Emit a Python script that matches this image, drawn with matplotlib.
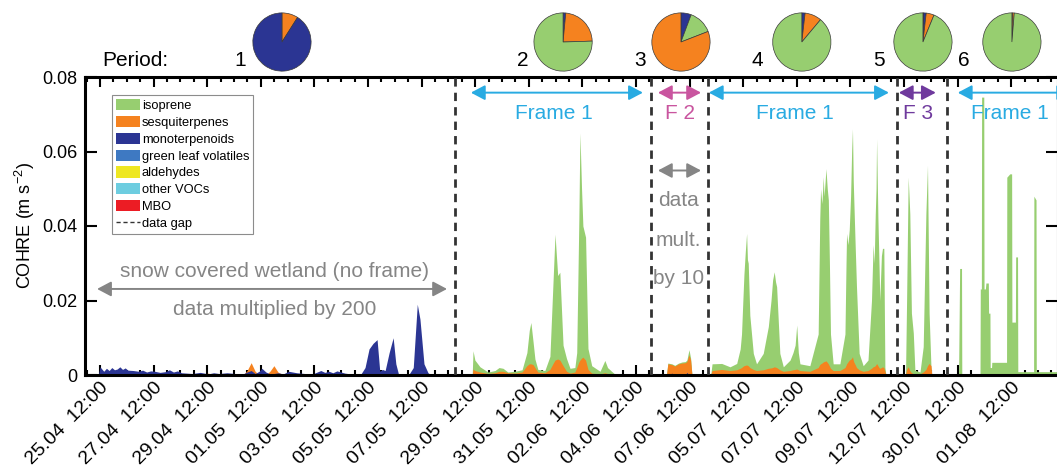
import matplotlib
matplotlib.use("Agg")
import matplotlib.pyplot as plt
import matplotlib.transforms as mtransforms
from matplotlib.patches import Patch
from matplotlib.lines import Line2D
import numpy as np

plt.rcParams["font.family"] = ["Liberation Sans", "DejaVu Sans"]
plt.rcParams["mathtext.fontset"] = "custom"
plt.rcParams["mathtext.rm"] = "Liberation Sans"
plt.rcParams["mathtext.it"] = "Liberation Sans:italic"

# x axis = days along the spliced time axis (the gaps between campaigns removed)
date_labels = ["25.04", "27.04", "29.04", "01.05", "03.05", "05.05", "07.05",
               "29.05", "31.05", "02.06", "04.06", "07.06", "05.07", "07.07",
               "09.07", "12.07", "30.07", "01.08"]
tick_days = 0.56 + 2 * np.arange(len(date_labels))
gap_days = [13.81, 21.12, 23.25, 30.30, 32.16]
x_max = 36.31

colors = {
    "isoprene": "#97ce70",
    "sesquiterpenes": "#f5821f",
    "monoterpenoids": "#2b3593",
    "green leaf volatiles": "#3e79c2",
    "aldehydes": "#eee722",
    "other VOCs": "#6dcde0",
    "MBO": "#ec1c24",
}

# period 1 - snow covered wetland (x200)
seg1_day = [0.50, 0.56, 0.70, 0.80, 0.90, 1.00, 1.10, 1.20, 1.30, 1.40, 1.50, 1.60, 1.80,
            2.00, 2.15, 2.30, 2.45, 2.60, 2.80, 3.00, 3.15, 3.30, 3.45, 3.60, 4.00, 4.30,
            4.60, 4.80, 5.00, 5.30, 5.60, 5.90, 6.05, 6.20, 6.35, 6.50, 6.60, 6.75, 6.90,
            7.05, 7.20, 7.40, 7.60, 7.90, 8.20, 8.50, 8.80, 8.95, 9.10, 9.25, 9.40, 9.70,
            10.00, 10.30, 10.45, 10.60, 10.75, 10.90, 11.00, 11.10, 11.20, 11.35, 11.50,
            11.60, 11.70, 11.90, 12.10, 12.25, 12.40, 12.50, 12.65, 12.80, 12.90, 13.80]
seg1_mono = [0, 0.0022, 0.0010, 0.0018, 0.0012, 0.0020, 0.0014, 0.0016, 0.0022, 0.0015,
             0.0019, 0.0013, 0.0012, 0.0010, 0.0013, 0.0008, 0.0011, 0.0010, 0.0007, 0.0009,
             0.0014, 0.0008, 0.0011, 0.0006, 0.0004, 0.0007, 0.0003, 0.0006, 0.0004, 0.0006,
             0.0004, 0.0003, 0.0008, 0.0012, 0.0004, 0.0010, 0.0018, 0.0008, 0.0003, 0.0004,
             0.0006, 0.0003, 0.0010, 0.0006, 0.0004, 0.0003, 0.0012, 0.0007, 0.0010, 0.0006,
             0.0011, 0.0005, 0.0002, 0.0003, 0.0020, 0.0070, 0.0085, 0.0095, 0.0010, 0.0015,
             0.0012, 0.0060, 0.0100, 0.0030, 0.0002, 0.0002, 0.0003, 0.0020, 0.0190, 0.0150,
             0.0030, 0.0006, 0.0001, 0]
seg1_sesq = [0] * 26 + [0.0005, 0, 0, 0, 0, 0, 0.0012, 0.0033, 0.0010, 0, 0, 0, 0.0010,
                        0.0025, 0.0008] + [0] * 33

# period 2 - frame 1
seg2_day = [14.45, 14.48, 14.55, 14.74, 15.04, 15.30, 15.45, 15.60, 15.78, 16.04,
            16.31, 16.49, 16.58, 16.64, 16.72, 16.79, 16.90, 17.16, 17.35, 17.46,
            17.54, 17.64, 17.72, 17.84, 17.97, 18.10, 18.28, 18.35, 18.43, 18.47,
            18.53, 18.58, 18.68, 18.77, 18.91, 19.22, 19.40, 19.50, 19.65, 19.78, 21.0]
seg2_iso = [0, 0.0065, 0.0040, 0.0022, 0.0008, 0.0012, 0.0020, 0.0018, 0.0008, 0.0010,
            0.0014, 0.0060, 0.0120, 0.0141, 0.0090, 0.0043, 0.0015, 0.0012, 0.0050, 0.0240,
            0.0378, 0.0267, 0.0276, 0.0080, 0.0044, 0.0018, 0.0020, 0.0060, 0.0420, 0.0650,
            0.0500, 0.0400, 0.0370, 0.0071, 0.0025, 0.0010, 0.0039, 0.0020, 0.0010, 0.0002, 0]
seg2_sesq = [0, 0.0016, 0.0012, 0.0008, 0.0004, 0.0006, 0.0010, 0.0010, 0.0006, 0.0005,
             0.0008, 0.0025, 0.0030, 0.0030, 0.0028, 0.0020, 0.0008, 0.0006, 0.0015, 0.0030,
             0.0040, 0.0043, 0.0040, 0.0025, 0.0010, 0.0005, 0.0008, 0.0020, 0.0035, 0.0040,
             0.0045, 0.0048, 0.0040, 0.0015, 0.0005, 0.0003, 0.0006, 0.0004, 0.0002, 0, 0]

# period 3 - frame 2 (x10)
seg3_day = [21.70, 21.75, 21.90, 22.01, 22.15, 22.28, 22.40, 22.46, 22.54, 22.60, 22.65]
seg3_iso = [0, 0.0032, 0.0030, 0.0026, 0.0032, 0.0035, 0.0036, 0.0040, 0.0068, 0.0045, 0]
seg3_sesq = [0, 0.0030, 0.0028, 0.0024, 0.0030, 0.0032, 0.0033, 0.0036, 0.0054, 0.0040, 0]
seg3_mono = [0, 0, 0.0005, 0, 0, 0.0003, 0, 0.0007, 0, 0, 0]

# period 4 - frame 1
seg4_day = [23.35, 23.40, 23.76, 24.07, 24.32, 24.45, 24.50, 24.55, 24.59, 24.64, 24.69,
            24.72, 24.75, 24.81, 24.94, 25.06, 25.31, 25.50, 25.60, 25.66, 25.72, 25.77,
            25.81, 25.93, 26.06, 26.31, 26.42, 26.50, 26.56, 26.62, 26.68, 27.05, 27.36,
            27.42, 27.45, 27.50, 27.55, 27.58, 27.62, 27.65, 27.70, 27.74, 27.78, 27.82,
            27.92, 28.17, 28.36, 28.40, 28.42, 28.47, 28.52, 28.57, 28.61, 28.64, 28.67,
            28.69, 28.74, 28.79, 28.89, 29.04, 29.22, 29.35, 29.41, 29.45, 29.49, 29.52,
            29.54, 29.59, 29.63, 29.66, 29.72, 29.76, 29.81, 29.85, 29.89]
seg4_iso = [0, 0.0030, 0.0031, 0.0022, 0.0031, 0.0070, 0.0110, 0.0200, 0.0270, 0.0330,
            0.0380, 0.0310, 0.0300, 0.0160, 0.0058, 0.0030, 0.0058, 0.0130, 0.0200, 0.0255,
            0.0277, 0.0250, 0.0237, 0.0058, 0.0022, 0.0040, 0.0060, 0.0080, 0.0134, 0.0060,
            0.0030, 0.0025, 0.0110, 0.0420, 0.0500, 0.0460, 0.0532, 0.0480, 0.0520, 0.0554,
            0.0500, 0.0470, 0.0300, 0.0110, 0.0030, 0.0030, 0.0110, 0.0300, 0.0380, 0.0350,
            0.0390, 0.0480, 0.0603, 0.0661, 0.0520, 0.0470, 0.0350, 0.0237, 0.0058, 0.0025,
            0.0040, 0.0200, 0.0350, 0.0300, 0.0430, 0.0500, 0.0634, 0.0420, 0.0300, 0.0200,
            0.0320, 0.0340, 0.0340, 0.0020, 0]
seg4_sesq = [0, 0.0012, 0.0015, 0.0012, 0.0014, 0.0018, 0.0020, 0.0023, 0.0025, 0.0026,
             0.0027, 0.0026, 0.0025, 0.0020, 0.0015, 0.0012, 0.0014, 0.0018, 0.0019, 0.0020,
             0.0022, 0.0021, 0.0020, 0.0014, 0.0010, 0.0012, 0.0014, 0.0015, 0.0016, 0.0014,
             0.0012, 0.0010, 0.0020, 0.0028, 0.0030, 0.0032, 0.0035, 0.0036, 0.0037, 0.0038,
             0.0034, 0.0030, 0.0024, 0.0018, 0.0012, 0.0012, 0.0020, 0.0026, 0.0030, 0.0035,
             0.0040, 0.0042, 0.0045, 0.0049, 0.0040, 0.0035, 0.0028, 0.0020, 0.0014, 0.0010,
             0.0012, 0.0018, 0.0022, 0.0023, 0.0025, 0.0028, 0.0031, 0.0025, 0.0020, 0.0018,
             0.0020, 0.0022, 0.0020, 0.0010, 0]

# period 5 - frame 3
seg5_day = [30.62, 30.66, 30.72, 30.78, 30.84, 30.91, 30.97, 31.16, 31.28, 31.38, 31.44,
            31.50, 31.57, 31.60]
seg5_iso = [0, 0.0200, 0.0531, 0.0433, 0.0166, 0.0113, 0.0013, 0.0008, 0.0076, 0.0433,
            0.0563, 0.0166, 0.0020, 0]
seg5_sesq = [0, 0.0015, 0.0022, 0.0012, 0.0006, 0.0004, 0.0003, 0.0003, 0.0008, 0.0015,
             0.0025, 0.0031, 0.0025, 0]

# period 6 - frame 1 (coarse, step-like record)
seg6_day = [32.60, 32.64, 32.71, 32.72, 33.40, 33.41, 33.45, 33.46, 33.54, 33.55, 33.60,
            33.62, 33.71, 33.72, 33.77, 33.78, 33.83, 33.84, 34.39, 34.40, 34.51, 34.58,
            34.59, 34.72, 34.73, 34.80, 34.81, 35.40, 35.41, 35.49, 35.50, 36.35]
seg6_iso = [0, 0.0286, 0.0286, 0.0004, 0.0004, 0.0231, 0.0231, 0.0746, 0.0746, 0.0231, 0.0231,
            0.0247, 0.0247, 0.0166, 0.0166, 0.0020, 0.0020, 0.0034, 0.0034, 0.0531, 0.0540, 0.0540,
            0.0142, 0.0142, 0.0317, 0.0317, 0.0009, 0.0009, 0.0480, 0.0470, 0.0009, 0.0009]

# pie charts: mean composition per period
pie_days = [7.35, 17.84, 22.24, 26.75, 31.27, 34.59]
period_label_days = [5.78, 16.34, 20.71, 25.09, 29.63, 32.80]
pie_shares = [
    {"sesquiterpenes": 0.09, "monoterpenoids": 0.91},
    {"monoterpenoids": 0.015, "sesquiterpenes": 0.23, "isoprene": 0.755},
    {"monoterpenoids": 0.057, "isoprene": 0.134, "sesquiterpenes": 0.809},
    {"monoterpenoids": 0.018, "sesquiterpenes": 0.093, "isoprene": 0.889},
    {"MBO": 0.003, "monoterpenoids": 0.015, "sesquiterpenes": 0.044, "isoprene": 0.938},
    {"MBO": 0.003, "sesquiterpenes": 0.010, "isoprene": 0.987},
]

fig = plt.figure(figsize=(10.57, 4.72), dpi=100)
ax = fig.add_axes([85 / 1057, 97 / 472, 973 / 1057, 298 / 472])

segments = [
    (seg1_day, {"sesquiterpenes": seg1_sesq, "monoterpenoids": seg1_mono}),
    (seg2_day, {"isoprene": seg2_iso, "sesquiterpenes": seg2_sesq}),
    (seg3_day, {"isoprene": seg3_iso, "sesquiterpenes": seg3_sesq, "monoterpenoids": seg3_mono}),
    (seg4_day, {"isoprene": seg4_iso, "sesquiterpenes": seg4_sesq}),
    (seg5_day, {"isoprene": seg5_iso, "sesquiterpenes": seg5_sesq}),
    (seg6_day, {"isoprene": seg6_iso}),
]
for days, species in segments:
    for name in ["isoprene", "sesquiterpenes", "monoterpenoids"]:
        if name in species:
            ax.fill_between(days, 0, species[name], color=colors[name], lw=0, zorder=2)

for g in gap_days:
    ax.axvline(g, color="#333333", lw=2, dashes=(3, 2.2), zorder=3)

ax.set_xlim(0, x_max)
ax.set_ylim(0, 0.08)
ax.set_yticks([0, 0.02, 0.04, 0.06, 0.08])
ax.set_yticklabels(["0", "0.02", "0.04", "0.06", "0.08"])
ax.set_xticks(tick_days)
ax.set_xticklabels([d + "  12:00" for d in date_labels], rotation=45, ha="right",
                   va="top", rotation_mode="anchor")
shift = mtransforms.ScaledTranslation(7 / 100, -5 / 100, fig.dpi_scale_trans)
for lab in ax.get_xticklabels():
    lab.set_transform(lab.get_transform() + shift)
ax.set_xticks(np.arange(0.06, x_max, 0.5), minor=True)
ax.tick_params(which="both", direction="in", top=True, right=True, labelsize=14)
ax.tick_params(axis="x", which="major", length=7.2, width=1.5, pad=3)
ax.tick_params(axis="x", which="minor", length=3.6, width=1.5)
ax.tick_params(axis="y", which="major", length=8.5, width=1.5, pad=5.5, labelsize=13)
for sp in ax.spines.values():
    sp.set_linewidth(2.2)
ax.set_ylabel("COHRE (m s$^{-2}$)", fontsize=13, labelpad=4)

# annotations
gray = "#858585"
blue = "#29abe2"
pink = "#c9559f"
purple = "#6f3a9d"
head = "<|-|>,head_length=0.85,head_width=0.45"


def arrow(x0, x1, y, c):
    ax.annotate("", xy=(x1, y), xytext=(x0, y), annotation_clip=False,
                arrowprops=dict(arrowstyle=head, color=c, lw=1.4, mutation_scale=10,
                                shrinkA=0, shrinkB=0))


arrow(0.45, 13.51, 0.0231, gray)
ax.text(7.09, 0.0279, "snow covered wetland (no frame)", color=gray, fontsize=15,
        ha="center", va="center")
ax.text(7.09, 0.0177, "data multiplied by 200", color=gray, fontsize=15,
        ha="center", va="center")

frames = [(14.40, 20.82, 17.5, blue, "Frame 1"), (21.38, 22.99, 22.2, pink, "F 2"),
          (23.28, 30.00, 26.49, blue, "Frame 1"), (30.37, 31.75, 31.08, purple, "F 3"),
          (32.57, 36.8, 34.5, blue, "Frame 1")]
for x0, x1, xt, c, lab in frames:
    arrow(x0, x1, 0.0758, c)
    ax.text(xt, 0.0702, lab, color=c, fontsize=15, ha="center", va="center")

arrow(21.38, 22.99, 0.0549, gray)
for yy, lab in zip([0.0469, 0.0362, 0.0260], ["data", "mult.", "by 10"]):
    ax.text(22.15, yy, lab, color=gray, fontsize=15, ha="center", va="center")

legend_items = [Patch(facecolor=colors[k], edgecolor="none", label=k) for k in colors]
legend_items.append(Line2D([], [], color="#333333", lw=1, dashes=(3, 2), label="data gap"))
ax.legend(handles=legend_items, loc="upper left", bbox_to_anchor=(0.0277, 0.9396),
          borderaxespad=0, fontsize=9.3, handlelength=1.85, handleheight=0.95,
          handletextpad=0.15, labelspacing=0.3, borderpad=0.3, fancybox=False,
          framealpha=1, edgecolor="#8c8c8c").get_frame().set_linewidth(0.8)

# period labels and pies
xtrans = ax.get_xaxis_transform()
ax.text(1.87, 1.057, "Period:", transform=xtrans, fontsize=15, ha="center", va="center")
for i, xd in enumerate(period_label_days):
    ax.text(xd, 1.057, str(i + 1), transform=xtrans, fontsize=15, ha="center", va="center")

r_px = 30
for xd, shares in zip(pie_days, pie_shares):
    cx, cy = xtrans.transform((xd, 1.1174))
    fx, fy = fig.transFigure.inverted().transform((cx - r_px, cy - r_px))
    pax = fig.add_axes([fx, fy, 2 * r_px / 1057, 2 * r_px / 472])
    items = sorted(shares.items(), key=lambda kv: kv[1])
    pax.pie([v for _, v in items], colors=[colors[k] for k, _ in items], startangle=90,
            counterclock=False, wedgeprops=dict(edgecolor="#3a3a3a", linewidth=0.5))
    pax.set_xlim(-1.03, 1.03)
    pax.set_ylim(-1.03, 1.03)

fig.savefig("out.png", dpi=100)
